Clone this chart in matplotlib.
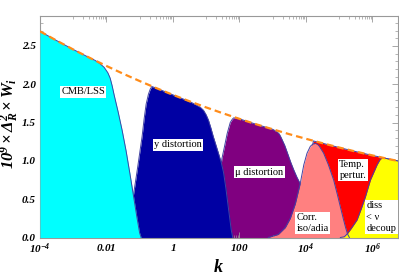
import numpy as np
import matplotlib.pyplot as plt

# -----------------------------------
# FONTS
# -----------------------------------

plt.rcParams["font.family"] = ["Liberation Serif", "DejaVu Serif"]
plt.rcParams["mathtext.fontset"] = "custom"
plt.rcParams["mathtext.rm"] = "Liberation Serif:bold:italic"
plt.rcParams["mathtext.it"] = "Liberation Serif:bold:italic"
plt.rcParams["mathtext.bf"] = "Liberation Serif:bold:italic"

# -----------------------------------
# DATA (log10 k, 10^9 x Delta_R^2 x W_i)
# -----------------------------------

# primordial power spectrum (dashed envelope)
P_LOGK = [-4.0, -3.5, -3.0, -2.5, -2.0, -1.5, -1.0, -0.5, 0.0, 0.5, 1.0, 1.5,
          2.0, 2.5, 3.0, 3.5, 4.0, 4.5, 5.0, 5.5, 6.0, 6.5, 6.77]
P_VAL = [2.690, 2.569, 2.453, 2.343, 2.238, 2.137, 2.041, 1.949, 1.861, 1.777,
         1.697, 1.621, 1.548, 1.478, 1.412, 1.348, 1.288, 1.230, 1.174, 1.121,
         1.071, 1.023, 0.998]

# CMB / LSS
CMB_LOGK = [-4.0, -3.5, -3.0, -2.5, -2.34, -2.2, -2.07, -1.96, -1.89, -1.83,
            -1.77, -1.65, -1.53, -1.41, -1.29, -1.19, -1.087, -1.003, -0.958]
CMB_VAL = [2.690, 2.569, 2.453, 2.343, 2.31, 2.27, 2.22, 2.15, 2.08, 1.98,
           1.86, 1.64, 1.40, 1.13, 0.82, 0.55, 0.27, 0.06, 0.0]

# y distortion
Y_LOGK = [-1.38, -1.289, -1.19, -1.078, -0.988, -0.928, -0.867, -0.807, -0.738,
          -0.68, -0.636, -0.5, 0.0, 0.52, 0.699, 0.82, 0.919, 1.0, 1.069, 1.14,
          1.211, 1.29, 1.361, 1.452, 1.521, 1.593, 1.672, 1.753, 1.798]
Y_VAL = [0.0, 0.25, 0.55, 0.87, 1.14, 1.32, 1.55, 1.74, 1.87, 1.94, 1.97,
         1.949, 1.861, 1.77, 1.73, 1.70, 1.66, 1.60, 1.53, 1.43, 1.32, 1.21,
         1.11, 0.98, 0.85, 0.64, 0.37, 0.10, 0.0]

# mu distortion
MU_LOGK = [1.181, 1.301, 1.407, 1.473, 1.542, 1.633, 1.723, 1.78, 1.822, 1.925,
           2.0, 2.5, 3.0, 3.13, 3.2, 3.259, 3.364, 3.455, 3.545, 3.636, 3.726,
           3.831, 3.952, 4.072, 4.163]
MU_VAL = [0.0, 0.45, 0.80, 1.03, 1.17, 1.36, 1.50, 1.54, 1.56, 1.559, 1.548,
          1.478, 1.412, 1.38, 1.35, 1.30, 1.20, 1.09, 0.98, 0.88, 0.79, 0.70,
          0.45, 0.18, 0.0]

# correlated iso / adia
CORR_LOGK = [2.867, 3.169, 3.38, 3.53, 3.681, 3.831, 3.937, 4.033, 4.133, 4.21,
             4.283, 4.35, 4.404, 4.533, 4.675, 4.834, 4.946, 5.036, 5.127, 5.187,
             5.247, 5.307]
CORR_VAL = [0.0, 0.04, 0.13, 0.25, 0.44, 0.71, 0.95, 1.10, 1.19, 1.22, 1.228,
            1.215, 1.19, 1.10, 0.95, 0.75, 0.56, 0.40, 0.24, 0.14, 0.05, 0.0]

# temperature perturbations
TEMP_LOGK = [3.922, 4.102, 4.223, 4.5, 5.0, 5.5, 6.0, 6.5, 6.77]
TEMP_VAL = [0.0, 0.9, 1.26, 1.230, 1.174, 1.121, 1.071, 1.023, 0.998]

# dissipation < nu decoupling
DISS_LOGK = [5.036, 5.157, 5.247, 5.367, 5.539, 5.669, 5.789, 5.94, 6.142,
             6.22, 6.292, 6.5, 6.77]
DISS_VAL = [0.0, 0.01, 0.05, 0.12, 0.23, 0.38, 0.53, 0.75, 0.95, 1.01, 1.043,
            1.023, 0.998]

X_TICKS = [1e-4, 1e-2, 1, 1e2, 1e4, 1e6]
X_TICK_LABELS = [r"$10^{-4}$", r"$0.01$", r"$1$", r"$100$", r"$10^{4}$", r"$10^{6}$"]
Y_TICKS = [0.0, 0.5, 1.0, 1.5, 2.0, 2.5]
Y_TICK_LABELS = ["0.0", "0.5", "1.0", "1.5", "2.0", "2.5"]

EDGE = "#4343A3"

# -----------------------------------
# PLOT
# -----------------------------------

fig = plt.figure(figsize=(3.99, 2.78), dpi=100)
ax = fig.add_axes([40 / 399, 40.5 / 278, 358 / 399, 221.5 / 278])

regions = [
    (MU_LOGK, MU_VAL, "#800080", 1),
    (TEMP_LOGK, TEMP_VAL, "#FF0000", 1),
    (Y_LOGK, Y_VAL, "#0000A3", 2),
    (CORR_LOGK, CORR_VAL, "#FF8080", 2),
    (DISS_LOGK, DISS_VAL, "#FFFF00", 2),
    (CMB_LOGK, CMB_VAL, "#00FFFF", 3),
]

for logk, val, col, z in regions:
    k = 10 ** np.array(logk)
    ax.fill_between(k, val, 0, color=col, lw=0, zorder=z)
    ax.plot(k, val, color=EDGE, lw=0.7, zorder=z + 0.1)

ax.plot(10 ** np.array(P_LOGK), P_VAL, color="#FF8C1A", lw=1.6,
        ls=(0, (3, 1.8)), zorder=5)

# region labels
box = dict(facecolor="white", edgecolor="none", pad=1)
txt = dict(fontsize=7.5, zorder=6, bbox=box, linespacing=1.3)
ax.text(1.97e-3, 1.90, "CMB/LSS", ha="center", va="center", **txt)
ax.text(1.43, 1.21, "y distortion", ha="center", va="center", **txt)
ax.text(394, 0.854, "μ distortion", ha="center", va="center", **txt)
ax.text(10 ** 3.711, 0.19, "Corr.\niso/adia", ha="left", va="center", **txt)
ax.text(10 ** 5.006, 0.88, "Temp.\npertur.", ha="left", va="center", **txt)
ax.text(10 ** 5.819, 0.267, "diss\n< ν\ndecoup", ha="left", va="center", **txt)

# axes
ax.set_xscale("log")
ax.set_xlim(1e-4, 10 ** 6.77)
ax.set_ylim(0, 2.89)

ax.set_xticks(X_TICKS)
ax.set_xticklabels(X_TICK_LABELS, fontsize=8)
minor = []
for d in [-3, -1, 1, 3, 5]:
    minor += [j * 10.0 ** d for j in range(1, 10)]
ax.set_xticks(minor, minor=True)
ax.set_xticklabels([], minor=True)

ax.set_yticks(Y_TICKS)
ax.set_yticklabels(Y_TICK_LABELS, fontsize=8, fontweight="bold", fontstyle="italic")
ax.set_yticks(np.arange(0, 2.9, 0.1), minor=True)

ax.tick_params(which="both", direction="in", top=True, right=True,
               color="#999999", labelcolor="black")
ax.tick_params(which="major", length=4, width=0.6, pad=3)
ax.tick_params(which="minor", length=2, width=0.5)

for s in ax.spines.values():
    s.set_color("#999999")
    s.set_linewidth(0.8)

fig.text(218.5 / 399, 1 - 267.5 / 278, r"$k$", fontsize=13,
         ha="center", va="center")
fig.text(10 / 399, 1 - 123.5 / 278, r"$10^9\times\Delta_{R}^{2}\times W_i$",
         fontsize=12, rotation=90, ha="center", va="center")

fig.savefig("out.png", dpi=100)
